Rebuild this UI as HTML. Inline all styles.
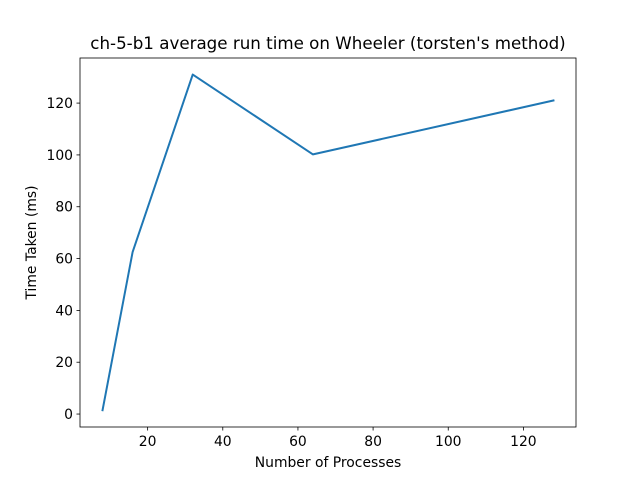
<!DOCTYPE html>
<html><head><meta charset="utf-8"><style>
body{margin:0;background:#fff;}
svg{display:block;font-family:"DejaVu Sans","Liberation Sans",sans-serif;}
</style></head><body>
<svg id="c" width="640" height="480">
<rect width="640" height="480" fill="#fff"/>
</svg>
<script>
const procs = [8, 16, 32, 64, 128];
const times = [1.5, 62.5, 131, 100.2, 121];
const xTicks = [20, 40, 60, 80, 100, 120];
const yTicks = [0, 20, 40, 60, 80, 100, 120];
const L=80,R=576,T=58,B=427;
const xMin=2,xMax=134,yMin=-5,yMax=137.4;
const sx=v=>L+(v-xMin)/(xMax-xMin)*(R-L);
const sy=v=>B-(v-yMin)/(yMax-yMin)*(B-T);
const svg=document.getElementById('c');
const NS='http://www.w3.org/2000/svg';
function mk(t,a,txt){const e=document.createElementNS(NS,t);for(const k in a)e.setAttribute(k,a[k]);if(txt!==undefined)e.textContent=txt;svg.appendChild(e);return e;}
xTicks.forEach(v=>{const x=sx(v);
const l=mk('line',{x1:x,x2:x,y1:B,y2:B+3.5,stroke:'#000','stroke-width':0.8});


const t=mk('text',{x:x,y:B+19,'text-anchor':'middle','font-size':13.9},v);

});
yTicks.forEach(v=>{const y=sy(v);
const l=mk('line',{x1:L-3.5,x2:L,y1:y,y2:y,stroke:'#000','stroke-width':0.8});


const t=mk('text',{x:L-7,y:y+5,'text-anchor':'end','font-size':13.9},v);

});
const p=mk('polyline',{points:procs.map((v,i)=>sx(v)+','+sy(times[i])).join(' '),fill:'none',stroke:'#1f77b4','stroke-width':2,'stroke-linejoin':'round','stroke-linecap':'square'});


const f=mk('rect',{x:L,y:T,width:R-L,height:B-T,fill:'none',stroke:'#000','stroke-width':0.8});


const ti=mk('text',{x:(L+R)/2,y:T-9,'text-anchor':'middle','font-size':16.7},"ch-5-b1 average run time on Wheeler (torsten's method)");


const xl=mk('text',{x:(L+R)/2,y:467,'text-anchor':'middle','font-size':13.9},'Number of Processes');


const yl=mk('text',{x:0,y:0,'text-anchor':'middle','font-size':13.9,transform:'translate(36,'+((T+B)/2)+') rotate(-90)'},'Time Taken (ms)');


</script>
</body></html>
